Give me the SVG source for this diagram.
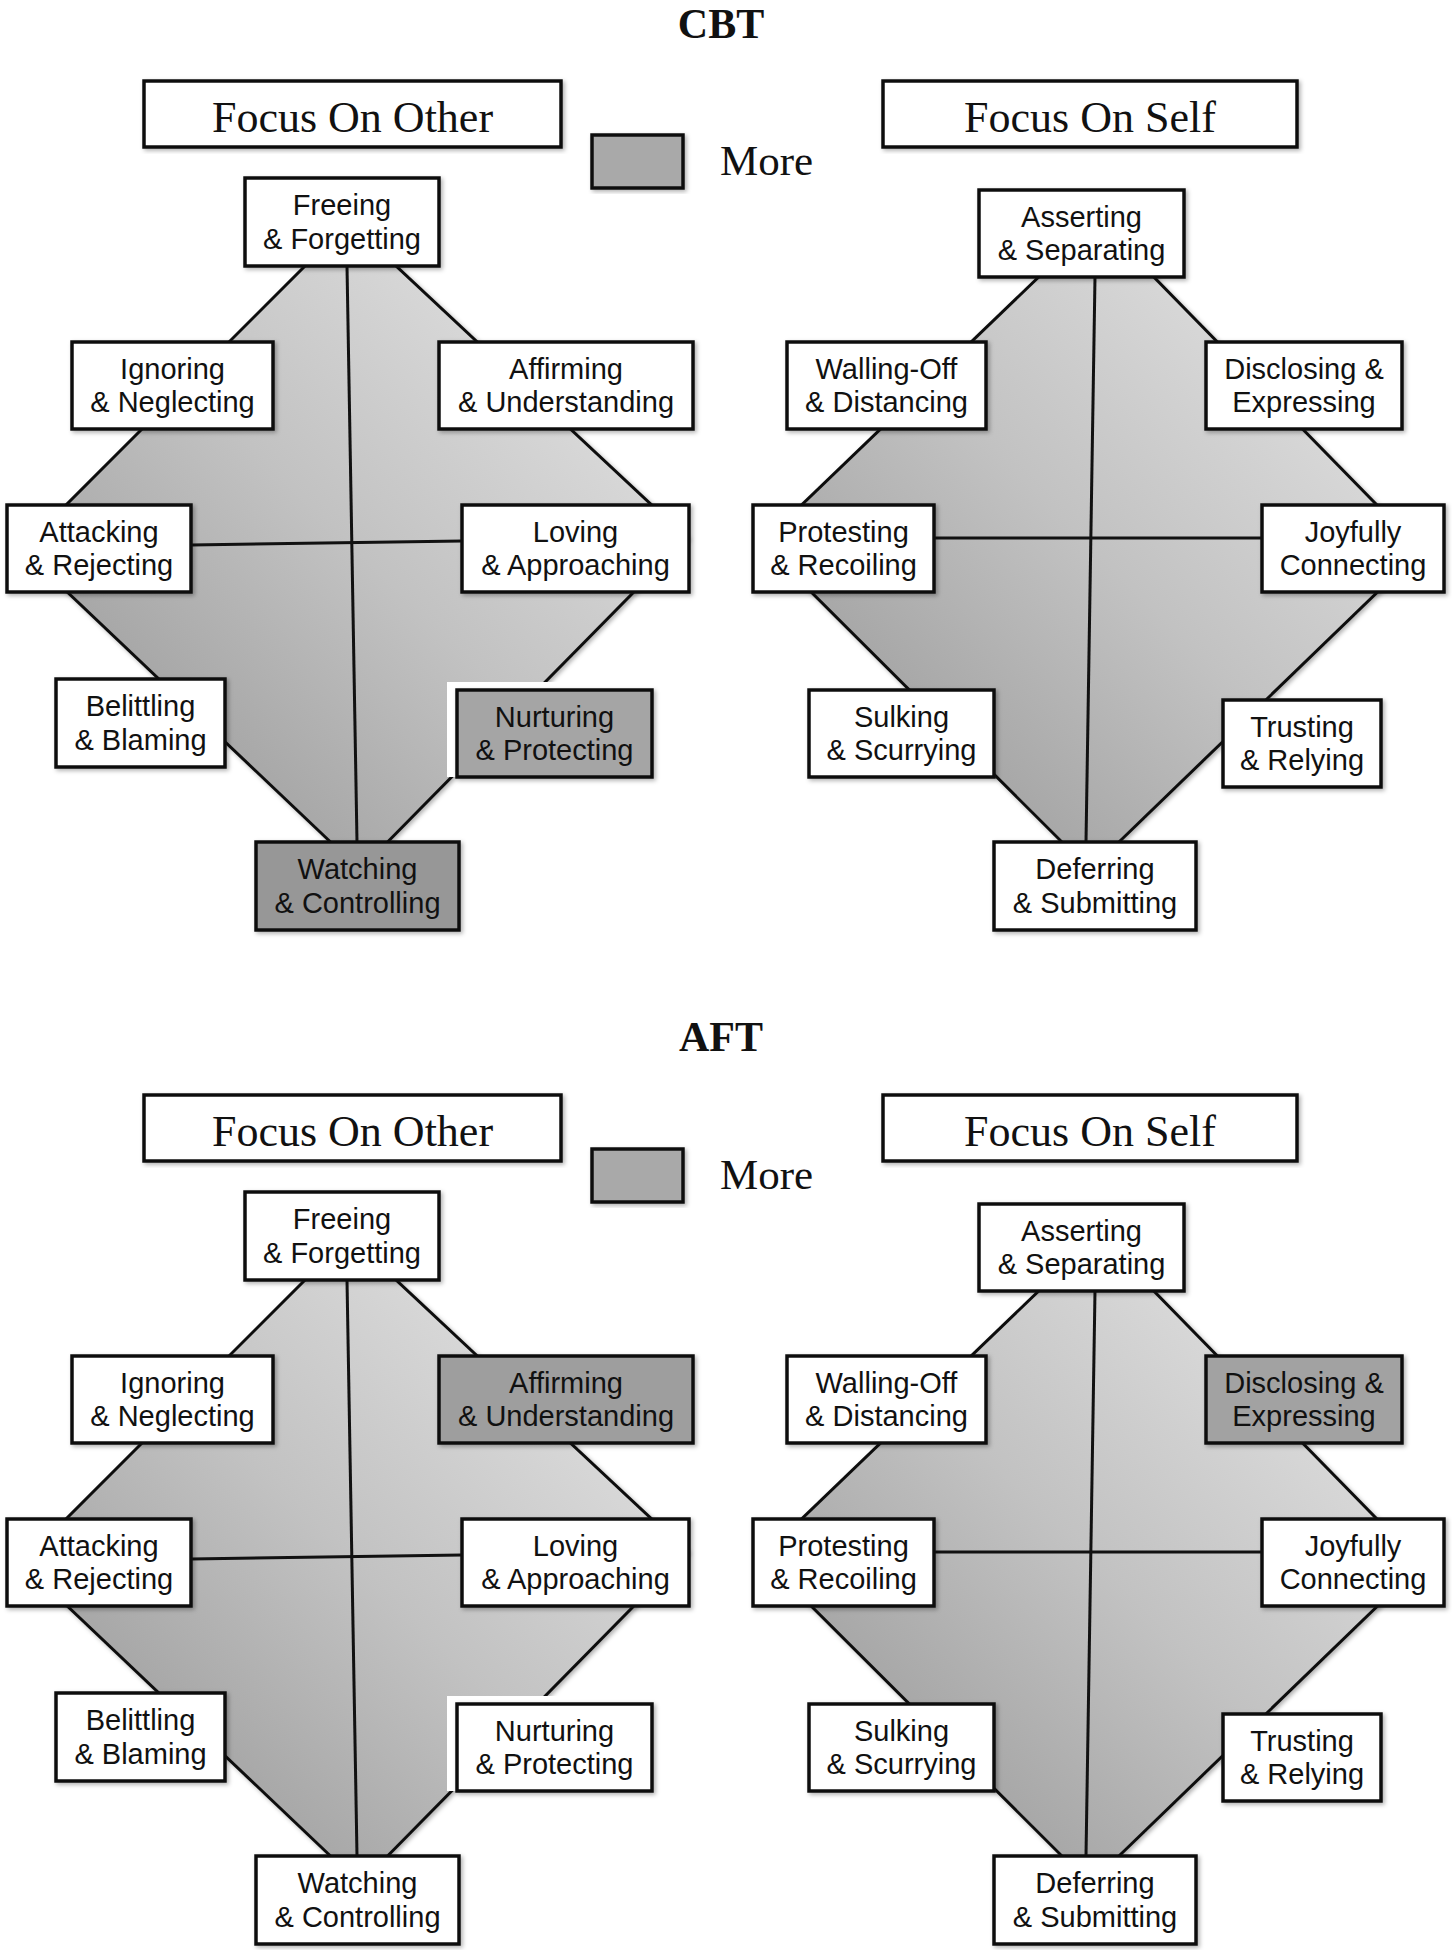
<svg xmlns="http://www.w3.org/2000/svg" width="1452" height="1950" viewBox="0 0 1452 1950">
<style>
.bg{fill:#ffffff}
.dia{stroke:#111;stroke-width:3;stroke-linejoin:miter;filter:url(#sh)}
.ln{stroke:#111;stroke-width:3;fill:none}
.box{fill:#ffffff;stroke:#111;stroke-width:3.5;filter:url(#sh)}
.hd{fill:#ffffff;stroke:#111;stroke-width:3.5;filter:url(#sh)}
.more{fill:#a9a9a9;stroke:#111;stroke-width:3.5;filter:url(#sh)}
.lbl{font-family:"Liberation Sans",Arial,sans-serif;font-size:29px;fill:#111;text-anchor:middle}
.hdt{font-family:"Liberation Serif","Times New Roman",serif;font-size:44px;fill:#111;text-anchor:middle}
.ttl{font-family:"Liberation Serif","Times New Roman",serif;font-size:42px;font-weight:bold;fill:#111;text-anchor:middle}
.mt{font-family:"Liberation Serif","Times New Roman",serif;font-size:43px;fill:#111}
</style>
<defs>
<filter id="sh" x="-10%" y="-10%" width="120%" height="120%">
<feDropShadow dx="2" dy="2" stdDeviation="2" flood-color="#000" flood-opacity="0.3"/>
</filter>
<linearGradient id="dg" x1="1" y1="0" x2="0" y2="1">
<stop offset="0" stop-color="#ebebeb"/>
<stop offset="0.5" stop-color="#c2c2c2"/>
<stop offset="1" stop-color="#8e8e8e"/>
</linearGradient>
</defs>
<rect class="bg" x="0" y="0" width="1452" height="1950"/>

<text id="title-cbt" class="ttl" x="721" y="38">CBT</text>
<text id="title-aft" class="ttl" x="721" y="1051">AFT</text>

<g id="panel-cbt">
<g id="cbt-diamonds">
<polygon class="dia" fill="url(#dg)" points="349,222 687,538 360,870 22,549"/>
<polygon class="dia" fill="url(#dg)" points="1098,220 1421,550 1090,870 762,543"/>
</g>
<g id="cbt-connectors">
<line class="ln" x1="347" y1="266" x2="357" y2="842"/>
<line class="ln" x1="191" y1="545" x2="462" y2="541"/>
<line class="ln" x1="1095" y1="277" x2="1086" y2="842"/>
<line class="ln" x1="934" y1="538" x2="1262" y2="538"/>
</g>
<g id="cbt-focus-other"><rect class="hd" x="144" y="81" width="417" height="66"/><text class="hdt" x="352.5" y="132">Focus On Other</text></g>
<g id="cbt-focus-self"><rect class="hd" x="883" y="81" width="414" height="66"/><text class="hdt" x="1090" y="132">Focus On Self</text></g>
<g id="cbt-legend"><rect class="more" x="592" y="135" width="91" height="53"/><text class="mt" x="720" y="175">More</text></g>

<g id="cbt-freeing"><rect class="box" x="245" y="178" width="194" height="88"/><text class="lbl" x="342" y="215">Freeing</text><text class="lbl" x="342" y="248.5">&amp; Forgetting</text></g>
<g id="cbt-ignoring"><rect class="box" x="72" y="342" width="201" height="87"/><text class="lbl" x="172.5" y="378.5">Ignoring</text><text class="lbl" x="172.5" y="412">&amp; Neglecting</text></g>
<g id="cbt-affirming"><rect class="box" x="439" y="342" width="254" height="87"/><text class="lbl" x="566" y="378.5">Affirming</text><text class="lbl" x="566" y="412">&amp; Understanding</text></g>
<g id="cbt-attacking"><rect class="box" x="7" y="505" width="184" height="87"/><text class="lbl" x="99" y="541.5">Attacking</text><text class="lbl" x="99" y="575">&amp; Rejecting</text></g>
<g id="cbt-loving"><rect class="box" x="462" y="505" width="227" height="87"/><text class="lbl" x="575.5" y="541.5">Loving</text><text class="lbl" x="575.5" y="575">&amp; Approaching</text></g>
<g id="cbt-belittling"><rect class="box" x="56" y="679" width="169" height="88"/><text class="lbl" x="140.5" y="716">Belittling</text><text class="lbl" x="140.5" y="749.5">&amp; Blaming</text></g>
<g id="cbt-nurturing"><rect x="447" y="682" width="205" height="95" fill="#ffffff"/><rect class="box" x="457" y="690" width="195" height="87" style="fill:#a5a5a5"/><text class="lbl" x="554.5" y="726.5">Nurturing</text><text class="lbl" x="554.5" y="760">&amp; Protecting</text></g>
<g id="cbt-watching"><rect class="box" x="256" y="842" width="203" height="88" style="fill:#979797"/><text class="lbl" x="357.5" y="879">Watching</text><text class="lbl" x="357.5" y="912.5">&amp; Controlling</text></g>

<g id="cbt-asserting"><rect class="box" x="979" y="190" width="205" height="87"/><text class="lbl" x="1081.5" y="226.5">Asserting</text><text class="lbl" x="1081.5" y="260">&amp; Separating</text></g>
<g id="cbt-walling"><rect class="box" x="787" y="342" width="199" height="87"/><text class="lbl" x="886.5" y="378.5">Walling-Off</text><text class="lbl" x="886.5" y="412">&amp; Distancing</text></g>
<g id="cbt-disclosing"><rect class="box" x="1206" y="342" width="196" height="87"/><text class="lbl" x="1304" y="378.5">Disclosing &amp;</text><text class="lbl" x="1304" y="412">Expressing</text></g>
<g id="cbt-protesting"><rect class="box" x="753" y="505" width="181" height="87"/><text class="lbl" x="843.5" y="541.5">Protesting</text><text class="lbl" x="843.5" y="575">&amp; Recoiling</text></g>
<g id="cbt-joyfully"><rect class="box" x="1262" y="505" width="182" height="87"/><text class="lbl" x="1353" y="541.5">Joyfully</text><text class="lbl" x="1353" y="575">Connecting</text></g>
<g id="cbt-sulking"><rect class="box" x="809" y="690" width="185" height="87"/><text class="lbl" x="901.5" y="726.5">Sulking</text><text class="lbl" x="901.5" y="760">&amp; Scurrying</text></g>
<g id="cbt-trusting"><rect class="box" x="1223" y="700" width="158" height="87"/><text class="lbl" x="1302" y="736.5">Trusting</text><text class="lbl" x="1302" y="770">&amp; Relying</text></g>
<g id="cbt-deferring"><rect class="box" x="994" y="842" width="202" height="88"/><text class="lbl" x="1095" y="879">Deferring</text><text class="lbl" x="1095" y="912.5">&amp; Submitting</text></g>
</g>

<g id="panel-aft" transform="translate(0,1014)">
<g id="aft-diamonds">
<polygon class="dia" fill="url(#dg)" points="349,222 687,538 360,870 22,549"/>
<polygon class="dia" fill="url(#dg)" points="1098,220 1421,550 1090,870 762,543"/>
</g>
<g id="aft-connectors">
<line class="ln" x1="347" y1="266" x2="357" y2="842"/>
<line class="ln" x1="191" y1="545" x2="462" y2="541"/>
<line class="ln" x1="1095" y1="277" x2="1086" y2="842"/>
<line class="ln" x1="934" y1="538" x2="1262" y2="538"/>
</g>
<g id="aft-focus-other"><rect class="hd" x="144" y="81" width="417" height="66"/><text class="hdt" x="352.5" y="132">Focus On Other</text></g>
<g id="aft-focus-self"><rect class="hd" x="883" y="81" width="414" height="66"/><text class="hdt" x="1090" y="132">Focus On Self</text></g>
<g id="aft-legend"><rect class="more" x="592" y="135" width="91" height="53"/><text class="mt" x="720" y="175">More</text></g>

<g id="aft-freeing"><rect class="box" x="245" y="178" width="194" height="88"/><text class="lbl" x="342" y="215">Freeing</text><text class="lbl" x="342" y="248.5">&amp; Forgetting</text></g>
<g id="aft-ignoring"><rect class="box" x="72" y="342" width="201" height="87"/><text class="lbl" x="172.5" y="378.5">Ignoring</text><text class="lbl" x="172.5" y="412">&amp; Neglecting</text></g>
<g id="aft-affirming"><rect class="box" x="439" y="342" width="254" height="87" style="fill:#9e9e9e"/><text class="lbl" x="566" y="378.5">Affirming</text><text class="lbl" x="566" y="412">&amp; Understanding</text></g>
<g id="aft-attacking"><rect class="box" x="7" y="505" width="184" height="87"/><text class="lbl" x="99" y="541.5">Attacking</text><text class="lbl" x="99" y="575">&amp; Rejecting</text></g>
<g id="aft-loving"><rect class="box" x="462" y="505" width="227" height="87"/><text class="lbl" x="575.5" y="541.5">Loving</text><text class="lbl" x="575.5" y="575">&amp; Approaching</text></g>
<g id="aft-belittling"><rect class="box" x="56" y="679" width="169" height="88"/><text class="lbl" x="140.5" y="716">Belittling</text><text class="lbl" x="140.5" y="749.5">&amp; Blaming</text></g>
<g id="aft-nurturing"><rect x="447" y="682" width="205" height="95" fill="#ffffff"/><rect class="box" x="457" y="690" width="195" height="87"/><text class="lbl" x="554.5" y="726.5">Nurturing</text><text class="lbl" x="554.5" y="760">&amp; Protecting</text></g>
<g id="aft-watching"><rect class="box" x="256" y="842" width="203" height="88"/><text class="lbl" x="357.5" y="879">Watching</text><text class="lbl" x="357.5" y="912.5">&amp; Controlling</text></g>

<g id="aft-asserting"><rect class="box" x="979" y="190" width="205" height="87"/><text class="lbl" x="1081.5" y="226.5">Asserting</text><text class="lbl" x="1081.5" y="260">&amp; Separating</text></g>
<g id="aft-walling"><rect class="box" x="787" y="342" width="199" height="87"/><text class="lbl" x="886.5" y="378.5">Walling-Off</text><text class="lbl" x="886.5" y="412">&amp; Distancing</text></g>
<g id="aft-disclosing"><rect class="box" x="1206" y="342" width="196" height="87" style="fill:#a2a2a2"/><text class="lbl" x="1304" y="378.5">Disclosing &amp;</text><text class="lbl" x="1304" y="412">Expressing</text></g>
<g id="aft-protesting"><rect class="box" x="753" y="505" width="181" height="87"/><text class="lbl" x="843.5" y="541.5">Protesting</text><text class="lbl" x="843.5" y="575">&amp; Recoiling</text></g>
<g id="aft-joyfully"><rect class="box" x="1262" y="505" width="182" height="87"/><text class="lbl" x="1353" y="541.5">Joyfully</text><text class="lbl" x="1353" y="575">Connecting</text></g>
<g id="aft-sulking"><rect class="box" x="809" y="690" width="185" height="87"/><text class="lbl" x="901.5" y="726.5">Sulking</text><text class="lbl" x="901.5" y="760">&amp; Scurrying</text></g>
<g id="aft-trusting"><rect class="box" x="1223" y="700" width="158" height="87"/><text class="lbl" x="1302" y="736.5">Trusting</text><text class="lbl" x="1302" y="770">&amp; Relying</text></g>
<g id="aft-deferring"><rect class="box" x="994" y="842" width="202" height="88"/><text class="lbl" x="1095" y="879">Deferring</text><text class="lbl" x="1095" y="912.5">&amp; Submitting</text></g>
</g>
</svg>
